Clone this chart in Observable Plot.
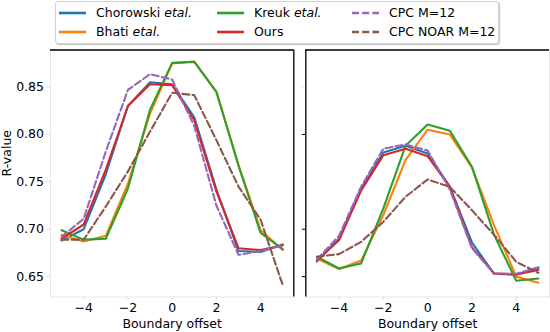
<!DOCTYPE html>
<html><head><meta charset="utf-8">
<script src="https://cdn.jsdelivr.net/npm/d3@7"></script>
<script src="https://cdn.jsdelivr.net/npm/@observablehq/plot@0.6"></script>
<style>
body{margin:0;background:#fff;font-family:"DejaVu Sans",sans-serif;}
#wrap{position:relative;width:550px;height:332px;overflow:hidden;background:#fff;}
#wrap svg{position:absolute;top:0;}
.legend{position:absolute;left:55px;top:1px;width:444px;height:43px;border:1px solid #d4d4d4;border-radius:3px;box-shadow:1px 1px 1px #c4c4c4;background:#fff;z-index:2;box-sizing:border-box;}
.item{position:absolute;display:flex;align-items:center;font-size:12.5px;white-space:nowrap;height:16px;color:#000;z-index:3;}
.item svg{position:static !important;margin-right:10px;}
</style></head>
<body><div id="wrap"></div>
<script>
// ---- data ----
const offsets = [-5, -4, -3, -2, -1, 0, 1, 2, 3, 4, 5];
const xTicks = [-4, -2, 0, 2, 4];
const yTicks = [0.65, 0.70, 0.75, 0.80, 0.85];

const seriesNames = ["Chorowski", "Bhati", "Kreuk", "Ours", "CPC M=12", "CPC NOAR M=12"];
const seriesItalic = [" etal.", " etal.", " etal.", "", "", ""];
const seriesColors = ["#1f77b4", "#ff7f0e", "#2ca02c", "#d62728", "#9467bd", "#8c564b"];
const seriesDashed = [false, false, false, false, true, true];

// left panel
const chorowskiL = [0.688, 0.700, 0.758, 0.830, 0.855, 0.853, 0.818, 0.742, 0.677, 0.676, 0.684];
const bhatiL     = [0.694, 0.687, 0.693, 0.748, 0.822, 0.875, 0.877, 0.845, 0.768, 0.699, 0.678];
const kreukL     = [0.699, 0.689, 0.690, 0.743, 0.826, 0.8755, 0.8766, 0.845, 0.767, 0.696, 0.679];
const oursL      = [0.690, 0.705, 0.763, 0.830, 0.853, 0.852, 0.815, 0.740, 0.680, 0.678, 0.683];
const cpcL       = [0.692, 0.711, 0.782, 0.847, 0.8636, 0.858, 0.809, 0.725, 0.673, 0.677, 0.683];
const cpcNoarL   = [0.689, 0.689, 0.724, 0.761, 0.803, 0.844, 0.8415, 0.794, 0.745, 0.710, 0.641];

// right panel
const chorowskiR = [0.666, 0.690, 0.743, 0.781, 0.788, 0.780, 0.745, 0.686, 0.653, 0.652, 0.659];
const bhatiR     = [0.669, 0.658, 0.667, 0.715, 0.773, 0.805, 0.800, 0.765, 0.704, 0.650, 0.6435];
const kreukR     = [0.671, 0.6586, 0.664, 0.722, 0.788, 0.8105, 0.804, 0.766, 0.694, 0.6456, 0.648];
const oursR      = [0.667, 0.6885, 0.741, 0.778, 0.785, 0.777, 0.7447, 0.681, 0.6534, 0.6523, 0.657];
const cpcR       = [0.668, 0.693, 0.745, 0.785, 0.7895, 0.783, 0.742, 0.680, 0.653, 0.653, 0.660];
const cpcNoarR   = [0.671, 0.6737, 0.6867, 0.7078, 0.7342, 0.7525, 0.7447, 0.720, 0.694, 0.6656, 0.654];

const leftSeries = [chorowskiL, bhatiL, kreukL, oursL, cpcL, cpcNoarL];
const rightSeries = [chorowskiR, bhatiR, kreukR, oursR, cpcR, cpcNoarR];

const xDomain = [-5.5, 5.5];
const yDomain = [0.6285, 0.8891];

function lineMarks(seriesList) {
  return seriesList.map((vals, i) => Plot.line(
    offsets.map((o, j) => ({x: o, y: vals[j]})),
    {x: "x", y: "y", stroke: seriesColors[i], strokeWidth: 2.1,
     strokeDasharray: seriesDashed[i] ? "7,3.2" : null, strokeLinejoin: "round"}
  ));
}

const common = {
  height: 332, marginTop: 49.5, marginBottom: 35.5,
  x: {domain: xDomain}, y: {domain: yDomain},
  style: {fontFamily: "DejaVu Sans, sans-serif", fontSize: "12.5px", color: "black", background: "transparent", overflow: "visible"}
};

const left = Plot.plot({
  ...common, width: 300, marginLeft: 50, marginRight: 6.7,
  marks: [
    Plot.frame({stroke: "#e6e6e6"}),
    Plot.axisY({ticks: yTicks, tickFormat: d3.format(".2f"), tickSize: 3.5, tickPadding: 3,
      stroke: "#dcdcdc", fill: "black", label: null, fontSize: 12.5}),
    Plot.axisX({ticks: xTicks, tickFormat: d3.format("d"), tickSize: 3.5, tickPadding: 3,
      stroke: "#dcdcdc", fill: "black", label: null, fontSize: 12.5}),
    Plot.text(["Boundary offset"], {frameAnchor: "bottom", lineAnchor: "middle", dy: 27, fontSize: 12.5, fill: "black"}),
    Plot.text(["R-value"], {frameAnchor: "left", lineAnchor: "middle", rotate: -90, dx: -44, dy: 3, fontSize: 12.5, fill: "black"}),
    ...lineMarks(leftSeries),
    Plot.ruleY([yDomain[1]], {stroke: "black", strokeWidth: 1.3}),
    Plot.ruleX([xDomain[1]], {stroke: "black", strokeWidth: 1.3})
  ]
});
left.style.left = "0px";

const right = Plot.plot({
  ...common, width: 250, marginLeft: 5.3, marginRight: 1,
  marks: [
    Plot.frame({stroke: "#e6e6e6"}),
    Plot.axisY({ticks: [0.65, 0.70, 0.80], tickFormat: () => "", tickSize: 3.5, stroke: "black", label: null}),
    Plot.axisY({ticks: [0.75, 0.85], tickFormat: () => "", tickSize: 3.5, stroke: "#e6e6e6", label: null}),
    Plot.axisX({ticks: xTicks, tickFormat: d3.format("d"), tickSize: 3.5, tickPadding: 3,
      stroke: "#dcdcdc", fill: "black", label: null, fontSize: 12.5}),
    Plot.text(["Boundary offset"], {frameAnchor: "bottom", lineAnchor: "middle", dy: 27, fontSize: 12.5, fill: "black"}),
    ...lineMarks(rightSeries),
    Plot.ruleY([yDomain[1]], {stroke: "black", strokeWidth: 1.3}),
    Plot.ruleX([xDomain[0]], {stroke: "black", strokeWidth: 1.3})
  ]
});
right.style.left = "300px";

const wrap = document.getElementById("wrap");
wrap.appendChild(left);
wrap.appendChild(right);

// legend (3 columns, column-first)
const box = document.createElement("div");
box.className = "legend";
wrap.appendChild(box);
const colX = [59, 217, 352];
const rowY = [12.5, 31.5];
seriesNames.forEach((name, i) => {
  const col = Math.floor(i / 2), row = i % 2;
  const item = document.createElement("div");
  item.className = "item";
  item.style.left = colX[col] + "px";
  item.style.top = (rowY[row] - 8) + "px";
  const ns = "http://www.w3.org/2000/svg";
  const s = document.createElementNS(ns, "svg");
  s.setAttribute("width", 27); s.setAttribute("height", 16);
  const l = document.createElementNS(ns, "line");
  l.setAttribute("x1", 0); l.setAttribute("x2", 27); l.setAttribute("y1", 8); l.setAttribute("y2", 8);
  l.setAttribute("stroke", seriesColors[i]); l.setAttribute("stroke-width", 2.6);
  if (seriesDashed[i]) l.setAttribute("stroke-dasharray", "7,3.2");
  s.appendChild(l);
  item.appendChild(s);
  const t = document.createElement("span");
  t.textContent = name;
  item.appendChild(t);
  if (seriesItalic[i]) {
    const it = document.createElement("i");
    it.textContent = seriesItalic[i];
    it.style.whiteSpace = "pre";
    item.appendChild(it);
  }
  wrap.appendChild(item);
});
</script>
</body></html>
